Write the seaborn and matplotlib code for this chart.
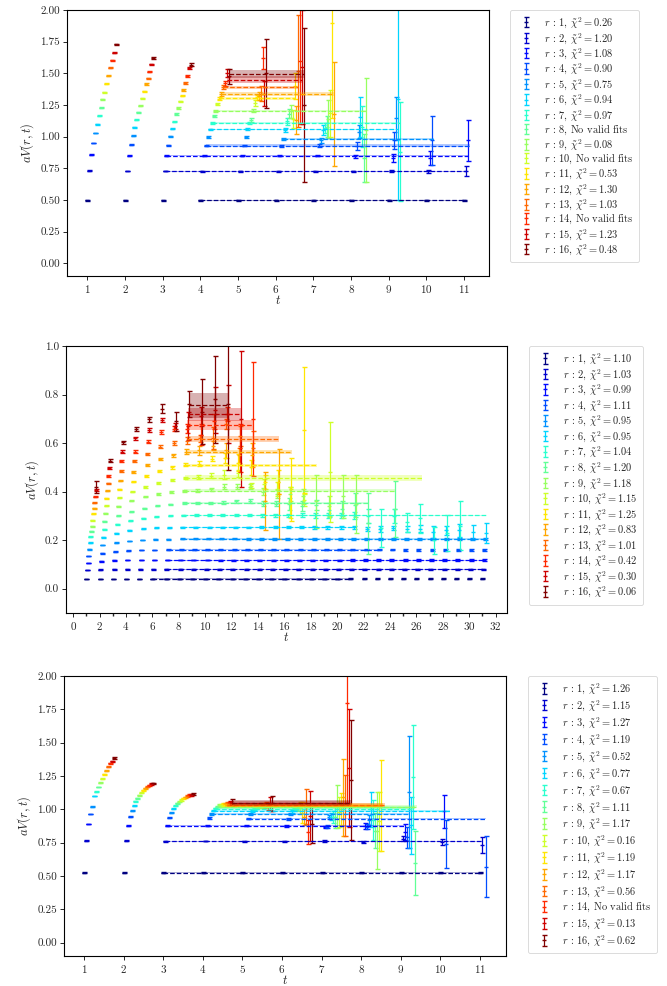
import numpy as np
import matplotlib
matplotlib.use("Agg")
import matplotlib.pyplot as plt
from matplotlib.ticker import MultipleLocator, FormatStrFormatter
import seaborn as sns

nan = np.nan

# ----------- PANEL 1 (t = 1..11) -----------
p1_t = [1, 2, 3, 4, 5, 6, 7, 8, 9, 10, 11]
p1_vals = [
    [0.496, 0.496, 0.496, 0.496, 0.496, 0.496, 0.496, 0.496, 0.496, 0.496, 0.496],
    [0.732, 0.727, 0.727, 0.727, 0.727, 0.727, 0.727, 0.727, 0.727, 0.725, 0.730],
    [0.858, 0.850, 0.850, 0.850, 0.850, 0.850, 0.850, 0.845, 0.830, 0.830, 0.970],
    [0.950, 0.937, 0.932, 0.929, 0.929, 0.925, 0.930, 0.925, 0.970, 0.970],
    [1.029, 1.008, 1.003, 0.997, 0.997, 0.980, 0.970, 1.040, 1.145],
    [1.097, 1.073, 1.063, 1.058, 1.058, 1.050, 1.050, 1.155, 1.300],
    [1.165, 1.134, 1.118, 1.108, 1.108, 1.120, 1.070, 1.080, 0.880],
    [1.228, 1.192, 1.178, 1.163, 1.130, 1.180, 1.080, 0.830],
    [1.294, 1.244, 1.226, 1.205, 1.205, 1.200, 1.140, 1.050],
    [1.349, 1.302, 1.278, 1.257, 1.265, 1.140, 1.185],
    [1.417, 1.357, 1.323, 1.300, 1.310, 1.400, 1.900],
    [1.480, 1.415, 1.370, 1.336, 1.320, 1.130, 1.180],
    [1.543, 1.459, 1.423, 1.389, 1.340, 1.520],
    [1.604, 1.514, 1.480, 1.420, 1.620, 1.600],
    [1.664, 1.570, 1.541, 1.500, 1.340, 1.550],
    [1.730, 1.619, 1.567, 1.475, 1.500, 1.250],
]
p1_errs = [
    [0.002, 0.002, 0.002, 0.002, 0.002, 0.002, 0.002, 0.002, 0.002, 0.002, 0.002],
    [0.002, 0.002, 0.002, 0.003, 0.003, 0.003, 0.004, 0.005, 0.006, 0.012, 0.040],
    [0.002, 0.002, 0.003, 0.003, 0.004, 0.005, 0.006, 0.010, 0.030, 0.056, 0.160],
    [0.002, 0.003, 0.003, 0.004, 0.005, 0.007, 0.015, 0.030, 0.070, 0.190],
    [0.002, 0.003, 0.003, 0.005, 0.007, 0.010, 0.020, 0.050, 0.170],
    [0.003, 0.003, 0.004, 0.006, 0.008, 0.015, 0.040, 0.155, 0.800],
    [0.003, 0.003, 0.004, 0.007, 0.010, 0.025, 0.040, 0.160, 0.390],
    [0.003, 0.003, 0.005, 0.008, 0.015, 0.035, 0.080, 0.190],
    [0.003, 0.004, 0.005, 0.009, 0.012, 0.050, 0.150, 0.410],
    [0.003, 0.004, 0.006, 0.010, 0.025, 0.070, 0.185],
    [0.003, 0.004, 0.006, 0.012, 0.020, 0.105, 0.750],
    [0.003, 0.005, 0.007, 0.013, 0.030, 0.110, 0.410],
    [0.004, 0.005, 0.008, 0.015, 0.060, 0.440],
    [0.004, 0.006, 0.009, 0.020, 0.090, 0.500],
    [0.004, 0.006, 0.010, 0.030, 0.100, 0.450],
    [0.005, 0.007, 0.011, 0.060, 0.270, 0.610],
]
p1_fit_val = [0.496, 0.727, 0.850, 0.930, 0.982, 1.058, 1.108, None, 1.205, None, 1.302, 1.336, 1.389, None, 1.451, 1.494]
p1_fit_err = [0.004, 0.004, 0.004, 0.008, 0.008, 0.006, 0.006, None, 0.008, None, 0.012, 0.015, 0.012, None, 0.030, 0.035]
p1_fit_lo = [4, 3, 3, 4, 6, 4, 4, None, 4, None, 4, 4, 4, None, 4, 4]
p1_fit_hi = [11, 11, 11, 11, 10, 9, 9, None, 8, None, 6, 7, 6, None, 6, 6]
p1_chi2 = [0.26, 1.20, 1.08, 0.90, 0.75, 0.94, 0.97, None, 0.08, None, 0.53, 1.30, 1.03, None, 1.23, 0.48]

# ----------- PANEL 2 (t = 1..31) -----------
p2_t = list(range(1, 32))
p2_vals = [
    [0.041, 0.041, 0.041, 0.041, 0.041, 0.041, 0.041, 0.041, 0.041, 0.041, 0.041, 0.041, 0.041, 0.041, 0.041, 0.041,
     0.041, 0.041, 0.041, 0.041, 0.041, 0.041, 0.041, 0.041, 0.041, 0.041, 0.041, 0.041, 0.041, 0.041, 0.041],
    [0.077, 0.079, 0.080, 0.080, 0.080, 0.080, 0.080, 0.080, 0.080, 0.080, 0.080, 0.080, 0.080, 0.080, 0.080, 0.080,
     0.080, 0.080, 0.080, 0.080, 0.080, 0.080, 0.080, 0.080, 0.080, 0.080, 0.080, 0.080, 0.080, 0.080, 0.080],
    [0.107, 0.113, 0.117, 0.118, 0.118, 0.118, 0.118, 0.118, 0.118, 0.118, 0.118, 0.118, 0.118, 0.118, 0.118, 0.118,
     0.118, 0.118, 0.118, 0.118, 0.118, 0.118, 0.118, 0.118, 0.118, 0.118, 0.118, 0.118, 0.118, 0.118, 0.118],
    [0.135, 0.146, 0.153, 0.157, 0.159, 0.160, 0.161, 0.161, 0.161, 0.161, 0.161, 0.161, 0.161, 0.161, 0.161, 0.161,
     0.161, 0.161, 0.161, 0.161, 0.161, 0.161, 0.161, 0.161, 0.161, 0.161, 0.161, 0.161, 0.161, 0.161, 0.161],
    [0.162, 0.180, 0.190, 0.197, 0.201, 0.203, 0.204, 0.205, 0.205, 0.205, 0.205, 0.205, 0.205, 0.205, 0.205, 0.205,
     0.205, 0.205, 0.205, 0.205, 0.205, 0.205, 0.205, 0.205, 0.205, 0.205, 0.205, 0.205, 0.205, 0.205, 0.205],
    [0.190, 0.212, 0.228, 0.240, 0.247, 0.251, 0.252, 0.253, 0.253, 0.253, 0.253, 0.253, 0.253, 0.253, 0.253, 0.253,
     0.253, 0.253, 0.253, 0.253, 0.253, 0.245, 0.245, 0.250, 0.246, 0.248, 0.235, 0.240, 0.240, 0.233, 0.230],
    [0.214, 0.245, 0.265, 0.280, 0.290, 0.297, 0.300, 0.302, 0.302, 0.302, 0.302, 0.302, 0.302, 0.302, 0.302, 0.302,
     0.302, 0.302, 0.302, 0.302, 0.302, 0.300, 0.250, 0.300, 0.274, 0.290, 0.200, 0.230, 0.260],
    [0.236, 0.277, 0.300, 0.318, 0.332, 0.342, 0.348, 0.352, 0.352, 0.353, 0.355, 0.360, 0.360, 0.350, 0.350, 0.350,
     0.340, 0.345, 0.325, 0.330, 0.345, 0.270, nan, 0.330],
    [0.258, 0.310, 0.340, 0.362, 0.378, 0.390, 0.398, 0.404, 0.404, 0.410, 0.420, 0.420, 0.420, 0.400, 0.390, 0.390,
     0.380, 0.360, 0.340, 0.380, 0.350],
    [0.283, 0.341, 0.375, 0.400, 0.420, 0.435, 0.447, 0.455, 0.460, 0.465, 0.470, 0.475, 0.425, 0.430, 0.410, 0.355,
     0.365, nan, 0.480],
    [0.308, 0.372, 0.410, 0.440, 0.465, 0.485, 0.500, 0.510, 0.515, 0.535, 0.540, 0.520, 0.500, 0.440, 0.440, 0.410,
     0.655],
    [0.331, 0.404, 0.445, 0.480, 0.510, 0.535, 0.550, 0.565, 0.570, 0.590, 0.570, 0.550, 0.550, 0.360, 0.390],
    [0.354, 0.434, 0.485, 0.525, 0.555, 0.585, 0.600, 0.610, 0.620, 0.620, 0.680, 0.630, 0.580],
    [0.379, 0.464, 0.525, 0.565, 0.605, 0.645, 0.660, 0.660, 0.635, 0.690, 0.720, 0.580, 0.700],
    [0.407, 0.496, 0.565, 0.620, 0.655, 0.695, 0.670, 0.670, 0.710, 0.735, 0.720, 0.700],
    [0.420, 0.527, 0.603, 0.657, 0.698, 0.742, 0.690, 0.760, 0.730, 0.780, 0.760],
]
p2_errs = [
    [0.001, 0.001, 0.001, 0.001, 0.001, 0.001, 0.001, 0.001, 0.001, 0.001, 0.001, 0.001, 0.001, 0.001, 0.001, 0.001,
     0.001, 0.001, 0.001, 0.001, 0.002, 0.002, 0.002, 0.002, 0.002, 0.002, 0.002, 0.002, 0.002, 0.002, 0.002],
    [0.001, 0.001, 0.001, 0.001, 0.001, 0.001, 0.001, 0.001, 0.001, 0.001, 0.001, 0.001, 0.001, 0.001, 0.001, 0.002,
     0.002, 0.002, 0.002, 0.002, 0.002, 0.002, 0.002, 0.002, 0.002, 0.003, 0.003, 0.003, 0.003, 0.003, 0.003],
    [0.001, 0.001, 0.001, 0.001, 0.001, 0.001, 0.001, 0.001, 0.001, 0.001, 0.002, 0.002, 0.002, 0.002, 0.002, 0.002,
     0.002, 0.002, 0.002, 0.002, 0.003, 0.003, 0.003, 0.003, 0.003, 0.003, 0.003, 0.003, 0.003, 0.003, 0.003],
    [0.001, 0.001, 0.001, 0.001, 0.001, 0.001, 0.001, 0.001, 0.002, 0.002, 0.002, 0.002, 0.002, 0.002, 0.002, 0.002,
     0.003, 0.003, 0.003, 0.003, 0.003, 0.003, 0.003, 0.003, 0.004, 0.004, 0.004, 0.004, 0.004, 0.004, 0.004],
    [0.001, 0.001, 0.001, 0.001, 0.001, 0.001, 0.002, 0.002, 0.002, 0.002, 0.002, 0.002, 0.003, 0.003, 0.003, 0.003,
     0.003, 0.003, 0.004, 0.004, 0.004, 0.004, 0.004, 0.004, 0.005, 0.005, 0.005, 0.005, 0.005, 0.005, 0.005],
    [0.002, 0.002, 0.002, 0.002, 0.002, 0.002, 0.002, 0.003, 0.003, 0.003, 0.003, 0.003, 0.003, 0.004, 0.004, 0.004,
     0.004, 0.006, 0.006, 0.006, 0.006, 0.008, 0.012, 0.010, 0.012, 0.013, 0.025, 0.020, 0.025, 0.030, 0.040],
    [0.002, 0.002, 0.002, 0.002, 0.002, 0.002, 0.002, 0.002, 0.004, 0.004, 0.004, 0.004, 0.004, 0.006, 0.006, 0.006,
     0.008, 0.010, 0.010, 0.012, 0.015, 0.030, 0.080, 0.030, 0.040, 0.060, 0.055, 0.075, 0.100],
    [0.002, 0.002, 0.002, 0.002, 0.002, 0.002, 0.003, 0.004, 0.005, 0.006, 0.007, 0.007, 0.008, 0.010, 0.010, 0.025,
     0.020, 0.020, 0.030, 0.030, 0.050, 0.125, nan, 0.115],
    [0.002, 0.002, 0.002, 0.002, 0.002, 0.003, 0.003, 0.004, 0.005, 0.007, 0.010, 0.010, 0.010, 0.015, 0.015, 0.030,
     0.030, 0.110, 0.040, 0.090, 0.120],
    [0.002, 0.002, 0.002, 0.002, 0.003, 0.003, 0.004, 0.005, 0.007, 0.010, 0.020, 0.015, 0.010, 0.020, 0.030, 0.065,
     0.025, nan, 0.205],
    [0.002, 0.002, 0.002, 0.002, 0.003, 0.004, 0.005, 0.006, 0.010, 0.010, 0.020, 0.035, 0.030, 0.030, 0.050, 0.130,
     0.260],
    [0.002, 0.002, 0.002, 0.003, 0.004, 0.005, 0.007, 0.010, 0.020, 0.020, 0.030, 0.030, 0.050, 0.120, 0.185],
    [0.002, 0.003, 0.003, 0.004, 0.005, 0.006, 0.008, 0.014, 0.015, 0.045, 0.020, 0.040, 0.070],
    [0.003, 0.003, 0.004, 0.005, 0.006, 0.008, 0.010, 0.020, 0.043, 0.030, 0.030, 0.100, 0.235],
    [0.004, 0.004, 0.005, 0.006, 0.008, 0.010, 0.012, 0.056, 0.040, 0.095, 0.120, 0.280],
    [0.024, 0.006, 0.007, 0.008, 0.010, 0.020, 0.040, 0.053, 0.135, 0.180, 0.270],
]
p2_fit_val = [0.041, 0.080, 0.118, 0.161, 0.205, 0.253, 0.302, 0.352, 0.404, 0.455, 0.508, 0.562, 0.617, 0.674, 0.718, 0.755]
p2_fit_err = [0.002, 0.002, 0.002, 0.002, 0.003, 0.003, 0.003, 0.004, 0.005, 0.012, 0.006, 0.008, 0.013, 0.020, 0.026, 0.050]
p2_fit_lo = [6, 7, 7, 7, 8, 8, 8, 8, 8, 8, 8, 8, 8, 8, 8, 8]
p2_fit_hi = [21, 31, 31, 23, 31, 21, 31, 22, 24, 26, 18, 16, 15, 13, 12, 11]
p2_chi2 = [1.10, 1.03, 0.99, 1.11, 0.95, 0.95, 1.04, 1.20, 1.18, 1.15, 1.25, 0.83, 1.01, 0.42, 0.30, 0.06]

# ----------- PANEL 3 (t = 1..11) -----------
p3_t = [1, 2, 3, 4, 5, 6, 7, 8, 9, 10, 11]
p3_vals = [
    [0.525, 0.525, 0.525, 0.525, 0.525, 0.525, 0.525, 0.525, 0.525, 0.525, 0.525],
    [0.765, 0.765, 0.760, 0.762, 0.762, 0.762, 0.762, 0.755, 0.780, 0.755, 0.730],
    [0.890, 0.878, 0.878, 0.877, 0.877, 0.877, 0.865, 0.875, 0.830, 0.985],
    [0.965, 0.945, 0.938, 0.935, 0.930, 0.930, 0.870, 0.870, 0.790, 0.740, 0.570],
    [1.020, 0.990, 0.975, 0.965, 0.965, 0.962, 0.940, 0.920, 1.130],
    [1.100, 1.028, 1.005, 0.990, 0.990, 0.985, 0.945, 1.000, 0.880],
    [1.133, 1.060, 1.028, 1.008, 1.005, 1.000, 0.945, 0.920, 1.240],
    [1.168, 1.083, 1.045, 1.020, 1.015, 1.010, 0.940, 0.840, 0.600],
    [1.200, 1.105, 1.058, 1.030, 1.020, 1.010, 1.020, 0.840],
    [1.230, 1.125, 1.070, 1.035, 1.025, 1.010, 0.980, 0.910],
    [1.263, 1.143, 1.083, 1.040, 1.030, 0.975, 1.000, 1.030],
    [1.290, 1.158, 1.090, 1.040, 1.030, 0.940, 1.090],
    [1.320, 1.170, 1.100, 1.045, 1.035, 1.020, 1.030],
    [1.345, 1.180, 1.105, 1.045, 1.020, 0.830, 1.800],
    [1.360, 1.190, 1.110, 1.045, 1.040, 0.950, 1.310],
    [1.385, 1.195, 1.113, 1.050, 1.045, 0.890, 1.220],
]
p3_errs = [
    [0.002, 0.002, 0.002, 0.002, 0.002, 0.002, 0.003, 0.003, 0.003, 0.004, 0.004],
    [0.002, 0.002, 0.003, 0.003, 0.004, 0.004, 0.005, 0.006, 0.020, 0.020, 0.060],
    [0.002, 0.003, 0.003, 0.004, 0.005, 0.006, 0.008, 0.020, 0.060, 0.125],
    [0.003, 0.003, 0.004, 0.005, 0.006, 0.008, 0.010, 0.020, 0.080, 0.180, 0.230],
    [0.003, 0.003, 0.004, 0.005, 0.006, 0.008, 0.015, 0.040, 0.420],
    [0.003, 0.003, 0.004, 0.005, 0.007, 0.010, 0.025, 0.130, 0.215],
    [0.003, 0.003, 0.004, 0.005, 0.008, 0.012, 0.045, 0.150, 0.390],
    [0.003, 0.003, 0.004, 0.006, 0.010, 0.015, 0.080, 0.130, 0.240],
    [0.003, 0.004, 0.005, 0.007, 0.012, 0.020, 0.160, 0.290],
    [0.003, 0.004, 0.005, 0.008, 0.014, 0.045, 0.110, 0.220],
    [0.003, 0.004, 0.005, 0.009, 0.015, 0.080, 0.120, 0.340],
    [0.003, 0.004, 0.006, 0.010, 0.018, 0.060, 0.290],
    [0.003, 0.005, 0.006, 0.011, 0.020, 0.130, 0.230],
    [0.003, 0.005, 0.007, 0.012, 0.025, 0.090, 0.750],
    [0.004, 0.005, 0.007, 0.015, 0.050, 0.190, 0.440],
    [0.004, 0.005, 0.008, 0.025, 0.055, 0.145, 0.450],
]
p3_fit_val = [0.525, 0.762, 0.877, 0.930, 0.965, 0.990, 1.005, 1.015, 1.020, 1.025, 1.030, 1.030, 1.035, None, 1.045, 1.050]
p3_fit_err = [0.003, 0.004, 0.005, 0.006, 0.006, 0.007, 0.008, 0.010, 0.010, 0.010, 0.012, 0.015, 0.015, None, 0.020, 0.020]
p3_fit_lo = [3, 3, 3, 5, 4, 4, 4, 4, 4, 4, 4, 4, 4, None, 4, 4]
p3_fit_hi = [11, 11, 9, 11, 9, 10, 9, 9, 9, 8, 8, 8, 8, None, 7, 7]
p3_chi2 = [1.26, 1.15, 1.27, 1.19, 0.52, 0.77, 0.67, 1.11, 1.17, 0.16, 1.19, 1.17, 0.56, None, 0.13, 0.62]

# ----------- STYLE -----------
sns.set_theme(style="ticks")
plt.rcParams.update({
    "font.family": "serif",
    "font.serif": ["cmr10"],
    "mathtext.fontset": "cm",
    "axes.formatter.use_mathtext": True,
    "axes.unicode_minus": False,
    "axes.linewidth": 0.8,
    "axes.edgecolor": "black",
    "xtick.labelsize": 8,
    "ytick.labelsize": 8,
    "axes.labelsize": 9,
    "xtick.major.size": 3,
    "ytick.major.size": 3,
    "xtick.minor.size": 2,
    "xtick.major.width": 0.7,
    "ytick.major.width": 0.7,
    "xtick.major.pad": 2,
    "ytick.major.pad": 2,
})
colors = sns.color_palette(plt.cm.jet(np.linspace(0, 1, 16)))


def draw_panel(ax, t, vals, errs, fit_val, fit_err, fit_lo, fit_hi, chi2, spacing):
    for i in range(16):
        off = 0.05 * i
        y = np.array(vals[i], dtype=float)
        e = np.array(errs[i], dtype=float)
        x = np.array(t[:len(y)], dtype=float) + off
        if fit_val[i] is None:
            label = rf"$r$ : {i + 1}, No valid fits"
        else:
            label = rf"$r$ : {i + 1}, $\tilde{{\chi}}^2 = {chi2[i]:.2f}$"
        ax.errorbar(x, y, yerr=e, fmt="_", ms=3, mew=1.0, color=colors[i],
                    elinewidth=0.9, capsize=1.8, capthick=0.9, label=label, zorder=2)
        if fit_val[i] is not None:
            xs = np.array([fit_lo[i], fit_hi[i]]) + off
            ax.plot(xs, [fit_val[i], fit_val[i]], ls="--", lw=0.9, color=colors[i], zorder=3)
            ax.fill_between(xs, fit_val[i] - fit_err[i], fit_val[i] + fit_err[i],
                            color=colors[i], alpha=0.3, lw=0, zorder=3)
    ax.set_xlabel(r"$t$", labelpad=-1)
    ax.set_ylabel(r"$aV(r,t)$", labelpad=3)
    leg = ax.legend(loc="upper left", bbox_to_anchor=(1.05, 1.0), borderaxespad=0,
                    fontsize=7.5, handlelength=2.0, handletextpad=0.8,
                    labelspacing=spacing, borderpad=0.5, frameon=True)
    leg.get_frame().set_linewidth(0.6)


fig = plt.figure(figsize=(6.67, 9.86), dpi=100)
ax1 = fig.add_axes([0.1004, 0.7201, 0.6327, 0.2698])
ax2 = fig.add_axes([0.099, 0.3783, 0.661, 0.2708])
ax3 = fig.add_axes([0.096, 0.0304, 0.6626, 0.2840])

draw_panel(ax1, p1_t, p1_vals, p1_errs, p1_fit_val, p1_fit_err, p1_fit_lo, p1_fit_hi, p1_chi2, 0.05)
draw_panel(ax2, p2_t, p2_vals, p2_errs, p2_fit_val, p2_fit_err, p2_fit_lo, p2_fit_hi, p2_chi2, 0.06)
draw_panel(ax3, p3_t, p3_vals, p3_errs, p3_fit_val, p3_fit_err, p3_fit_lo, p3_fit_hi, p3_chi2, 0.19)

for ax in (ax1, ax3):
    ax.set_ylim(-0.1, 2.0)
    ax.set_xticks(range(1, 12))
    ax.yaxis.set_major_locator(MultipleLocator(0.25))
    ax.yaxis.set_major_formatter(FormatStrFormatter("%.2f"))
ax1.set_xlim(0.46, 11.66)
ax3.set_xlim(0.495, 11.66)

ax2.set_xlim(-0.55, 32.85)
ax2.set_ylim(-0.1, 1.0)
ax2.xaxis.set_major_locator(MultipleLocator(2))
ax2.xaxis.set_minor_locator(MultipleLocator(1))
ax2.yaxis.set_major_locator(MultipleLocator(0.2))
ax2.yaxis.set_major_formatter(FormatStrFormatter("%.1f"))

fig.savefig("out.png", dpi=100)
